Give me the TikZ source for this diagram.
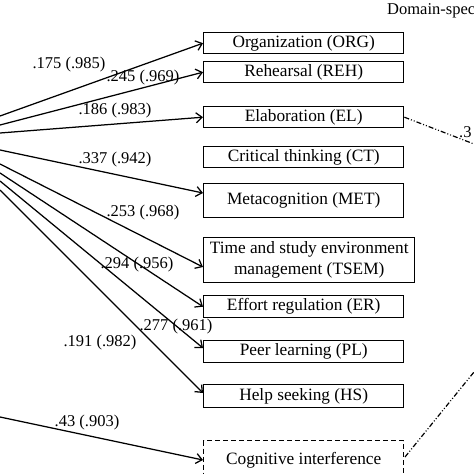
\documentclass[tikz,border=0pt]{standalone}
\usepackage{fontspec}
\setmainfont{Liberation Serif}
\usetikzlibrary{arrows.meta,calc}
\begin{document}
\begin{tikzpicture}[x=1pt,y=-1pt,
  box/.style={draw, line width=1.4pt, minimum width=200pt, anchor=north west, inner sep=0pt, font=\fontsize{17.3}{21}\selectfont},
  lab/.style={font=\fontsize{16.5}{20}\selectfont, inner sep=0pt},
  arr/.style={line width=1.25pt, -{Straight Barb[length=6pt,width=10pt]}},
  ddot/.style={line width=1.2pt, dash pattern=on 5pt off 2pt on 1pt off 2pt on 1pt off 2pt}]
\useasboundingbox (0,0) rectangle (474,474);
% boxes
\node[box, minimum height=21pt] (org) at (203,32) {Organization (ORG)};
\node[box, minimum height=21pt] (reh) at (203,61) {Rehearsal (REH)};
\node[box, minimum height=21pt] (el) at (203,106) {Elaboration (EL)};
\node[box, minimum height=21pt] (ct) at (203,146) {Critical thinking (CT)};
\node[box, minimum height=34pt] (met) at (203,183) {Metacognition (MET)};
\node[box, minimum height=45pt, minimum width=211pt, align=center] (tsem) at (203,237) {Time and study environment\\management (TSEM)};
\node[box, minimum height=22pt] (er) at (203,295) {Effort regulation (ER)};
\node[box, minimum height=22pt] (pl) at (203,340) {Peer learning (PL)};
\node[box, minimum height=23pt] (hs) at (203,384) {Help seeking (HS)};
\node[box, dash pattern=on 5pt off 3pt, minimum height=40pt] (cog) at (203,440) {\raisebox{3pt}{Cognitive interference}};
\node[lab, anchor=west] (dom) at (387,11) {Domain-spec};
% sources at left edge
\coordinate (s1) at (0,116);
\coordinate (s2) at (0,125);
\coordinate (s3) at (0,133);
\coordinate (s4) at (0,150);
\coordinate (s5) at (0,164);
\coordinate (s6) at (0,173);
\coordinate (s7) at (0,181);
\coordinate (s8) at (0,190);
\coordinate (s9) at (0,417);
\coordinate (r1) at (474,144);
\coordinate (r2) at (474,372);
% arrows
\draw[arr] (s1) -- (org.west);
\draw[arr] (s2) -- (reh.west);
\draw[arr] (s3) -- (el.west);
\draw[arr] (s4) -- ($(met.north west)+(0,10)$);
\draw[arr] (s5) -- ($(tsem.north west)+(0,30)$);
\draw[arr] (s6) -- (er.west);
\draw[arr] (s7) -- ($(pl.north west)+(0,8)$);
\draw[arr] (s8) -- ($(hs.north west)+(0,9)$);
\draw[arr] (s9) -- ($(cog.north west)+(0,20)$);
\draw[ddot] (el.east) -- (r1);
\draw[ddot] ($(cog.north west)+(202,17)$) -- (r2);
% labels
\node[lab] (l1) at (69,65) {.175 (.985)};
\node[lab] (l2) at (143,78) {.245 (.969)};
\node[lab] (l3) at (115,111) {.186 (.983)};
\node[lab] (l4) at (115,160) {.337 (.942)};
\node[lab] (l5) at (143,213) {.253 (.968)};
\node[lab] (l6) at (137,265) {.294 (.956)};
\node[lab] (l7) at (176,327) {.277 (.961)};
\node[lab] (l8) at (100,343) {.191 (.982)};
\node[lab] (l9) at (87,423) {.43 (.903)};
\node[lab, anchor=west] (l10) at (459,132) {.3};
\end{tikzpicture}
\end{document}
